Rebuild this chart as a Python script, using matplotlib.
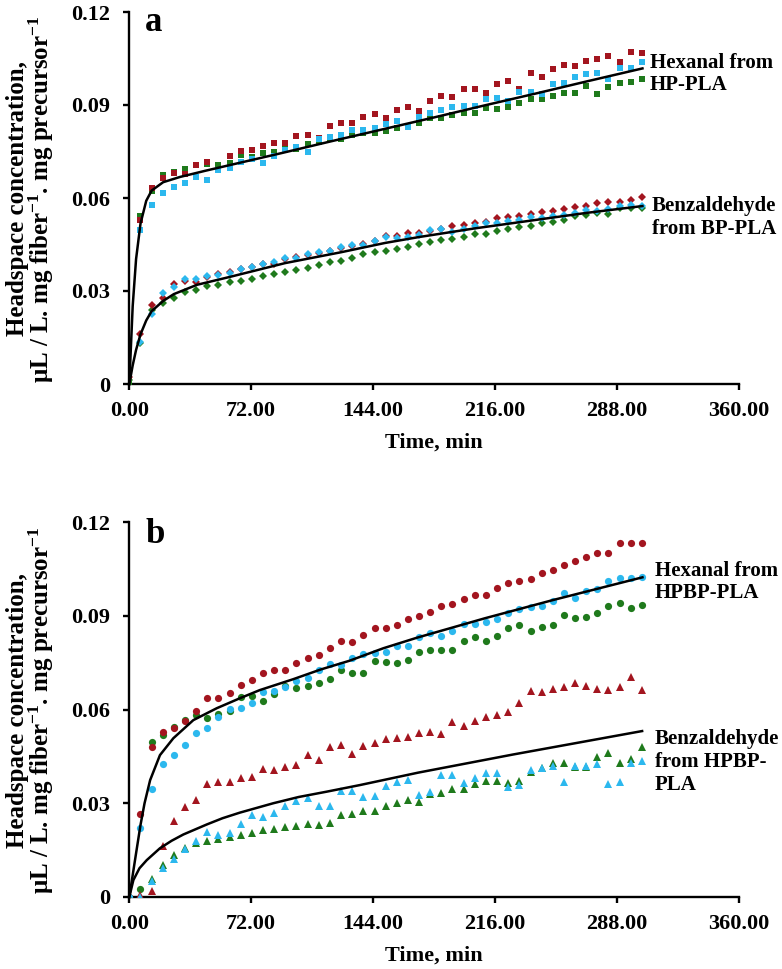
import matplotlib
matplotlib.use("Agg")
import matplotlib.pyplot as plt

plt.rcParams['mathtext.fontset'] = 'custom'
plt.rcParams['mathtext.rm'] = 'Liberation Serif:bold'
plt.rcParams['mathtext.bf'] = 'Liberation Serif:bold'
plt.rcParams['mathtext.it'] = 'Liberation Serif:bold'

FONT = 'Liberation Serif'

# ---------------- data ----------------
time = [0, 6.6, 13.2, 19.7, 26.3, 32.9, 39.5, 46.1, 52.6, 59.2, 65.8, 72.4, 79.0, 85.5,
        92.1, 98.7, 105.3, 111.9, 118.4, 125.0, 131.6, 138.2, 144.8, 151.3, 157.9, 164.5,
        171.1, 177.7, 184.2, 190.8, 197.4, 204.0, 210.6, 217.1, 223.7, 230.3, 236.9, 243.5,
        250.0, 256.6, 263.2, 269.8, 276.4, 282.9, 289.5, 296.1, 302.7]

# panel a - hexanal from HP-PLA (squares)
hex_a_red = [0.0026, 0.0529, 0.0631, 0.0663, 0.0680, 0.0677, 0.0706, 0.0715, 0.0690, 0.0735,
             0.0752, 0.0755, 0.0769, 0.0779, 0.0776, 0.0800, 0.0803, 0.0792, 0.0832, 0.0843,
             0.0843, 0.0862, 0.0871, 0.0857, 0.0884, 0.0895, 0.0881, 0.0913, 0.0930, 0.0927,
             0.0952, 0.0952, 0.0938, 0.0967, 0.0979, 0.0952, 0.1004, 0.0989, 0.1015, 0.1029,
             0.1026, 0.1043, 0.1047, 0.1058, 0.1040, 0.1072, 0.1067]
hex_a_green = [0.0003, 0.0542, 0.0624, 0.0674, 0.0685, 0.0692, 0.0708, 0.0709, 0.0708, 0.0712,
               0.0738, 0.0733, 0.0744, 0.0749, 0.0760, 0.0759, 0.0774, 0.0780, 0.0793, 0.0789,
               0.0803, 0.0811, 0.0811, 0.0817, 0.0825, 0.0833, 0.0843, 0.0857, 0.0857, 0.0868,
               0.0873, 0.0873, 0.0891, 0.0887, 0.0895, 0.0905, 0.0919, 0.0919, 0.0930, 0.0938,
               0.0938, 0.0962, 0.0934, 0.0959, 0.0970, 0.0973, 0.0984]
hex_a_blue = [0.0045, 0.0497, 0.0577, 0.0615, 0.0634, 0.0649, 0.0669, 0.0657, 0.0690, 0.0698,
              0.0717, 0.0725, 0.0712, 0.0737, 0.0755, 0.0766, 0.0750, 0.0789, 0.0798, 0.0803,
              0.0819, 0.0819, 0.0825, 0.0839, 0.0850, 0.0830, 0.0862, 0.0875, 0.0884, 0.0895,
              0.0898, 0.0897, 0.0919, 0.0924, 0.0913, 0.0941, 0.0943, 0.0934, 0.0967, 0.0970,
              0.0989, 0.1000, 0.1004, 0.0984, 0.1020, 0.1020, 0.1040]
hex_a_fit_t = [0, 2, 4, 6.6, 10, 13.2, 20, 30, 45, 60, 90, 120, 150, 180, 210, 240, 270, 303]
hex_a_fit = [0, 0.0251, 0.0403, 0.0517, 0.0591, 0.0624, 0.0651, 0.0668, 0.0688, 0.0707,
             0.0745, 0.0784, 0.0822, 0.0860, 0.0899, 0.0937, 0.0976, 0.1018]

# panel a - benzaldehyde from BP-PLA (diamonds)
benz_a_red = [0.0024, 0.0161, 0.0255, 0.0276, 0.0323, 0.0333, 0.0328, 0.0345, 0.0355, 0.0362,
              0.0372, 0.0378, 0.0388, 0.0386, 0.0402, 0.0410, 0.0416, 0.0424, 0.0428, 0.0440,
              0.0445, 0.0452, 0.0460, 0.0477, 0.0477, 0.0488, 0.0488, 0.0495, 0.0500, 0.0510,
              0.0513, 0.0518, 0.0524, 0.0534, 0.0540, 0.0543, 0.0547, 0.0554, 0.0559, 0.0563,
              0.0570, 0.0574, 0.0585, 0.0588, 0.0588, 0.0594, 0.0604]
benz_a_green = [0.0013, 0.0131, 0.0239, 0.0260, 0.0279, 0.0298, 0.0304, 0.0315, 0.0320, 0.0328,
                0.0333, 0.0340, 0.0350, 0.0355, 0.0362, 0.0368, 0.0375, 0.0383, 0.0392, 0.0398,
                0.0408, 0.0418, 0.0425, 0.0430, 0.0434, 0.0443, 0.0451, 0.0457, 0.0465, 0.0468,
                0.0475, 0.0483, 0.0483, 0.0494, 0.0499, 0.0505, 0.0510, 0.0518, 0.0524, 0.0529,
                0.0542, 0.0545, 0.0551, 0.0548, 0.0567, 0.0567, 0.0567]
benz_a_blue = [0.0045, 0.0137, 0.0226, 0.0295, 0.0314, 0.0338, 0.0338, 0.0350, 0.0352, 0.0358,
               0.0372, 0.0378, 0.0388, 0.0392, 0.0405, 0.0408, 0.0418, 0.0425, 0.0430, 0.0443,
               0.0448, 0.0450, 0.0462, 0.0473, 0.0472, 0.0475, 0.0481, 0.0497, 0.0500, 0.0491,
               0.0500, 0.0510, 0.0518, 0.0518, 0.0527, 0.0529, 0.0540, 0.0537, 0.0542, 0.0545,
               0.0553, 0.0561, 0.0559, 0.0563, 0.0575, 0.0577, 0.0575]
benz_a_fit_t = [0, 2, 4, 6.6, 10, 13.2, 20, 26.3, 40, 59, 92, 125, 151, 171, 204, 237, 270, 303]
benz_a_fit = [0, 0.0060, 0.0110, 0.0160, 0.0205, 0.0235, 0.0268, 0.0290, 0.0320, 0.0345,
              0.0390, 0.0425, 0.0455, 0.0474, 0.0502, 0.0527, 0.0552, 0.0574]

# panel b - hexanal from HPBP-PLA (circles)
hex_b_red = [0.0, 0.0265, 0.0481, 0.0527, 0.0542, 0.0563, 0.0596, 0.0636, 0.0636, 0.0654,
             0.0680, 0.0694, 0.0716, 0.0726, 0.0726, 0.0748, 0.0764, 0.0774, 0.0796, 0.0820,
             0.0817, 0.0838, 0.0860, 0.0861, 0.0870, 0.0889, 0.0899, 0.0913, 0.0932, 0.0937,
             0.0954, 0.0966, 0.0966, 0.0990, 0.1004, 0.1012, 0.1018, 0.1036, 0.1046, 0.1062,
             0.1076, 0.1089, 0.1100, 0.1100, 0.1134, 0.1134, 0.1134]
hex_b_green = [0.0, 0.0026, 0.0495, 0.0520, 0.0545, 0.0568, 0.0582, 0.0574, 0.0587, 0.0595,
               0.0639, 0.0643, 0.0628, 0.0649, 0.0675, 0.0668, 0.0675, 0.0684, 0.0698, 0.0726,
               0.0716, 0.0718, 0.0755, 0.0753, 0.0750, 0.0758, 0.0783, 0.0790, 0.0790, 0.0790,
               0.0819, 0.0831, 0.0819, 0.0835, 0.0860, 0.0870, 0.0852, 0.0865, 0.0870, 0.0902,
               0.0892, 0.0895, 0.0910, 0.0931, 0.0940, 0.0924, 0.0934]
hex_b_blue = [0.0, 0.0222, 0.0346, 0.0427, 0.0454, 0.0486, 0.0526, 0.0542, 0.0577, 0.0601,
              0.0606, 0.0620, 0.0657, 0.0659, 0.0673, 0.0692, 0.0700, 0.0726, 0.0746, 0.0742,
              0.0764, 0.0778, 0.0780, 0.0784, 0.0802, 0.0803, 0.0833, 0.0846, 0.0835, 0.0852,
              0.0874, 0.0874, 0.0881, 0.0889, 0.0910, 0.0921, 0.0927, 0.0931, 0.0947, 0.0972,
              0.0958, 0.0979, 0.0985, 0.1012, 0.1020, 0.1020, 0.1025]
hex_b_fit_t = [0, 2, 4, 6.6, 9, 12.3, 18.1, 26, 37.8, 51.6, 65.3, 77, 96.8, 113, 130, 150,
               170, 210, 250, 303]
hex_b_fit = [0, 0.0070, 0.0140, 0.0230, 0.0300, 0.0374, 0.0454, 0.0508, 0.0566, 0.0604,
             0.0636, 0.0662, 0.0697, 0.0728, 0.0756, 0.0796, 0.0830, 0.0892, 0.0950, 0.1023]

# panel b - benzaldehyde from HPBP-PLA (triangles)
benz_b_red = [0.0, 0.0005, 0.0020, 0.0164, 0.0244, 0.0289, 0.0310, 0.0361, 0.0369, 0.0369,
              0.0380, 0.0385, 0.0409, 0.0406, 0.0415, 0.0422, 0.0454, 0.0438, 0.0481, 0.0486,
              0.0458, 0.0483, 0.0492, 0.0505, 0.0508, 0.0511, 0.0524, 0.0527, 0.0521, 0.0561,
              0.0548, 0.0564, 0.0577, 0.0582, 0.0591, 0.0622, 0.0660, 0.0657, 0.0665, 0.0673,
              0.0684, 0.0675, 0.0665, 0.0662, 0.0673, 0.0705, 0.0662]
benz_b_green = [0.0, 0.0001, 0.0057, 0.0102, 0.0134, 0.0156, 0.0172, 0.0180, 0.0185, 0.0193,
                0.0198, 0.0206, 0.0214, 0.0217, 0.0225, 0.0227, 0.0234, 0.0230, 0.0238, 0.0262,
                0.0265, 0.0275, 0.0275, 0.0291, 0.0300, 0.0310, 0.0305, 0.0329, 0.0332, 0.0346,
                0.0345, 0.0362, 0.0372, 0.0372, 0.0364, 0.0372, 0.0401, 0.0412, 0.0430, 0.0430,
                0.0415, 0.0417, 0.0447, 0.0460, 0.0430, 0.0441, 0.0481]
benz_b_blue = [0.0, 0.0, 0.0050, 0.0092, 0.0121, 0.0153, 0.0180, 0.0209, 0.0198, 0.0206,
               0.0234, 0.0262, 0.0257, 0.0270, 0.0291, 0.0308, 0.0316, 0.0291, 0.0291, 0.0339,
               0.0339, 0.0321, 0.0324, 0.0355, 0.0369, 0.0376, 0.0325, 0.0335, 0.0390, 0.0390,
               0.0366, 0.0380, 0.0398, 0.0398, 0.0351, 0.0358, 0.0406, 0.0412, 0.0419, 0.0369,
               0.0419, 0.0420, 0.0426, 0.0362, 0.0369, 0.0428, 0.0435]
benz_b_fit_t = [0, 2.4, 6, 10.3, 18.1, 25, 31.9, 45.7, 55, 65.3, 85, 100, 116.5, 136, 170.6,
                226.6, 302.8]
benz_b_fit = [0, 0.0054, 0.0092, 0.0118, 0.0156, 0.0180, 0.0200, 0.0232, 0.0252, 0.0270,
              0.0300, 0.0320, 0.0337, 0.0358, 0.0398, 0.0456, 0.0531]

x_ticks = [0, 72, 144, 216, 288, 360]
x_tick_labels = ['0.00', '72.00', '144.00', '216.00', '288.00', '360.00']
y_ticks = [0, 0.03, 0.06, 0.09, 0.12]
y_tick_labels = ['0', '0.03', '0.06', '0.09', '0.12']

RED = '#A3151F'
GREEN = '#1F7A1C'
BLUE = '#2CB8EE'

W, H = 782, 969
fig = plt.figure(figsize=(W / 100, H / 100), dpi=100)


def px_axes(left, top, right, bottom):
    return fig.add_axes([left / W, 1 - bottom / H, (right - left) / W, (bottom - top) / H])


def style(ax):
    ax.set_xlim(0, 360)
    ax.set_ylim(0, 0.12)
    for s in ['top', 'right']:
        ax.spines[s].set_visible(False)
    for s in ['left', 'bottom']:
        ax.spines[s].set_linewidth(1.7)
    ax.set_xticks(x_ticks)
    ax.set_xticklabels(x_tick_labels, fontfamily=FONT, fontweight='bold', fontsize=16)
    ax.set_yticks(y_ticks)
    ax.set_yticklabels(y_tick_labels, fontfamily=FONT, fontweight='bold', fontsize=16)
    ax.tick_params(direction='out', length=4.5, width=1.7)
    ax.tick_params(axis='x', pad=8)
    ax.tick_params(axis='y', pad=9)
    ax.set_xlabel('Time, min', fontfamily=FONT, fontweight='bold', fontsize=16, labelpad=8)


ylabel = 'Headspace concentration,\nμL / L. mg fiber$^{-1}$. mg precursor$^{-1}$'

# ---------- panel a ----------
axa = px_axes(129.3, 12, 739, 384)
style(axa)
for ys, c in [(hex_a_green, GREEN), (hex_a_red, RED), (hex_a_blue, BLUE)]:
    axa.plot(time, ys, 's', color=c, markersize=5, markeredgewidth=0, zorder=3)
for ys, c in [(benz_a_green, GREEN), (benz_a_red, RED), (benz_a_blue, BLUE)]:
    axa.plot(time, ys, 'D', color=c, markersize=4.3, markeredgewidth=0, zorder=3)
axa.plot(hex_a_fit_t, hex_a_fit, color='black', lw=1.8, zorder=4, clip_on=False)
axa.plot(benz_a_fit_t, benz_a_fit, color='black', lw=1.8, zorder=4, clip_on=False)

# ---------- panel b ----------
axb = px_axes(129.3, 522, 739, 897)
style(axb)
for ys, c in [(hex_b_green, GREEN), (hex_b_red, RED), (hex_b_blue, BLUE)]:
    axb.plot(time, ys, 'o', color=c, markersize=5.2, markeredgewidth=0, zorder=3)
for ys, c in [(benz_b_green, GREEN), (benz_b_red, RED), (benz_b_blue, BLUE)]:
    axb.plot(time, ys, '^', color=c, markersize=5.5, markeredgewidth=0, zorder=3)
axb.plot(hex_b_fit_t, hex_b_fit, color='black', lw=1.8, zorder=4, clip_on=False)
axb.plot(benz_b_fit_t, benz_b_fit, color='black', lw=1.8, zorder=4, clip_on=False)

# ---------- texts ----------
def ftext(x, y, s, **kw):
    kw.setdefault('fontfamily', FONT)
    kw.setdefault('fontweight', 'bold')
    fig.text(x / W, 1 - y / H, s, **kw)

ftext(31, 199, ylabel, rotation=90, ha='center', va='center', fontsize=18, linespacing=0.92,
      multialignment='center')
ftext(31, 710, ylabel, rotation=90, ha='center', va='center', fontsize=18, linespacing=0.92,
      multialignment='center')

ftext(145, 31, 'a', fontsize=25, ha='left', va='baseline')
ftext(146, 543, 'b', fontsize=25, ha='left', va='baseline')

ftext(650, 74, 'Hexanal from\nHP-PLA', fontsize=15, ha='left', va='center', linespacing=1.2)
ftext(652, 218, 'Benzaldehyde\nfrom BP-PLA', fontsize=15, ha='left', va='center', linespacing=1.2)
ftext(655, 582, 'Hexanal from\nHPBP-PLA', fontsize=15, ha='left', va='center', linespacing=1.2)
ftext(655, 762, 'Benzaldehyde\nfrom HPBP-\nPLA', fontsize=15, ha='left', va='center', linespacing=1.2)

fig.savefig('out.png', dpi=100)
